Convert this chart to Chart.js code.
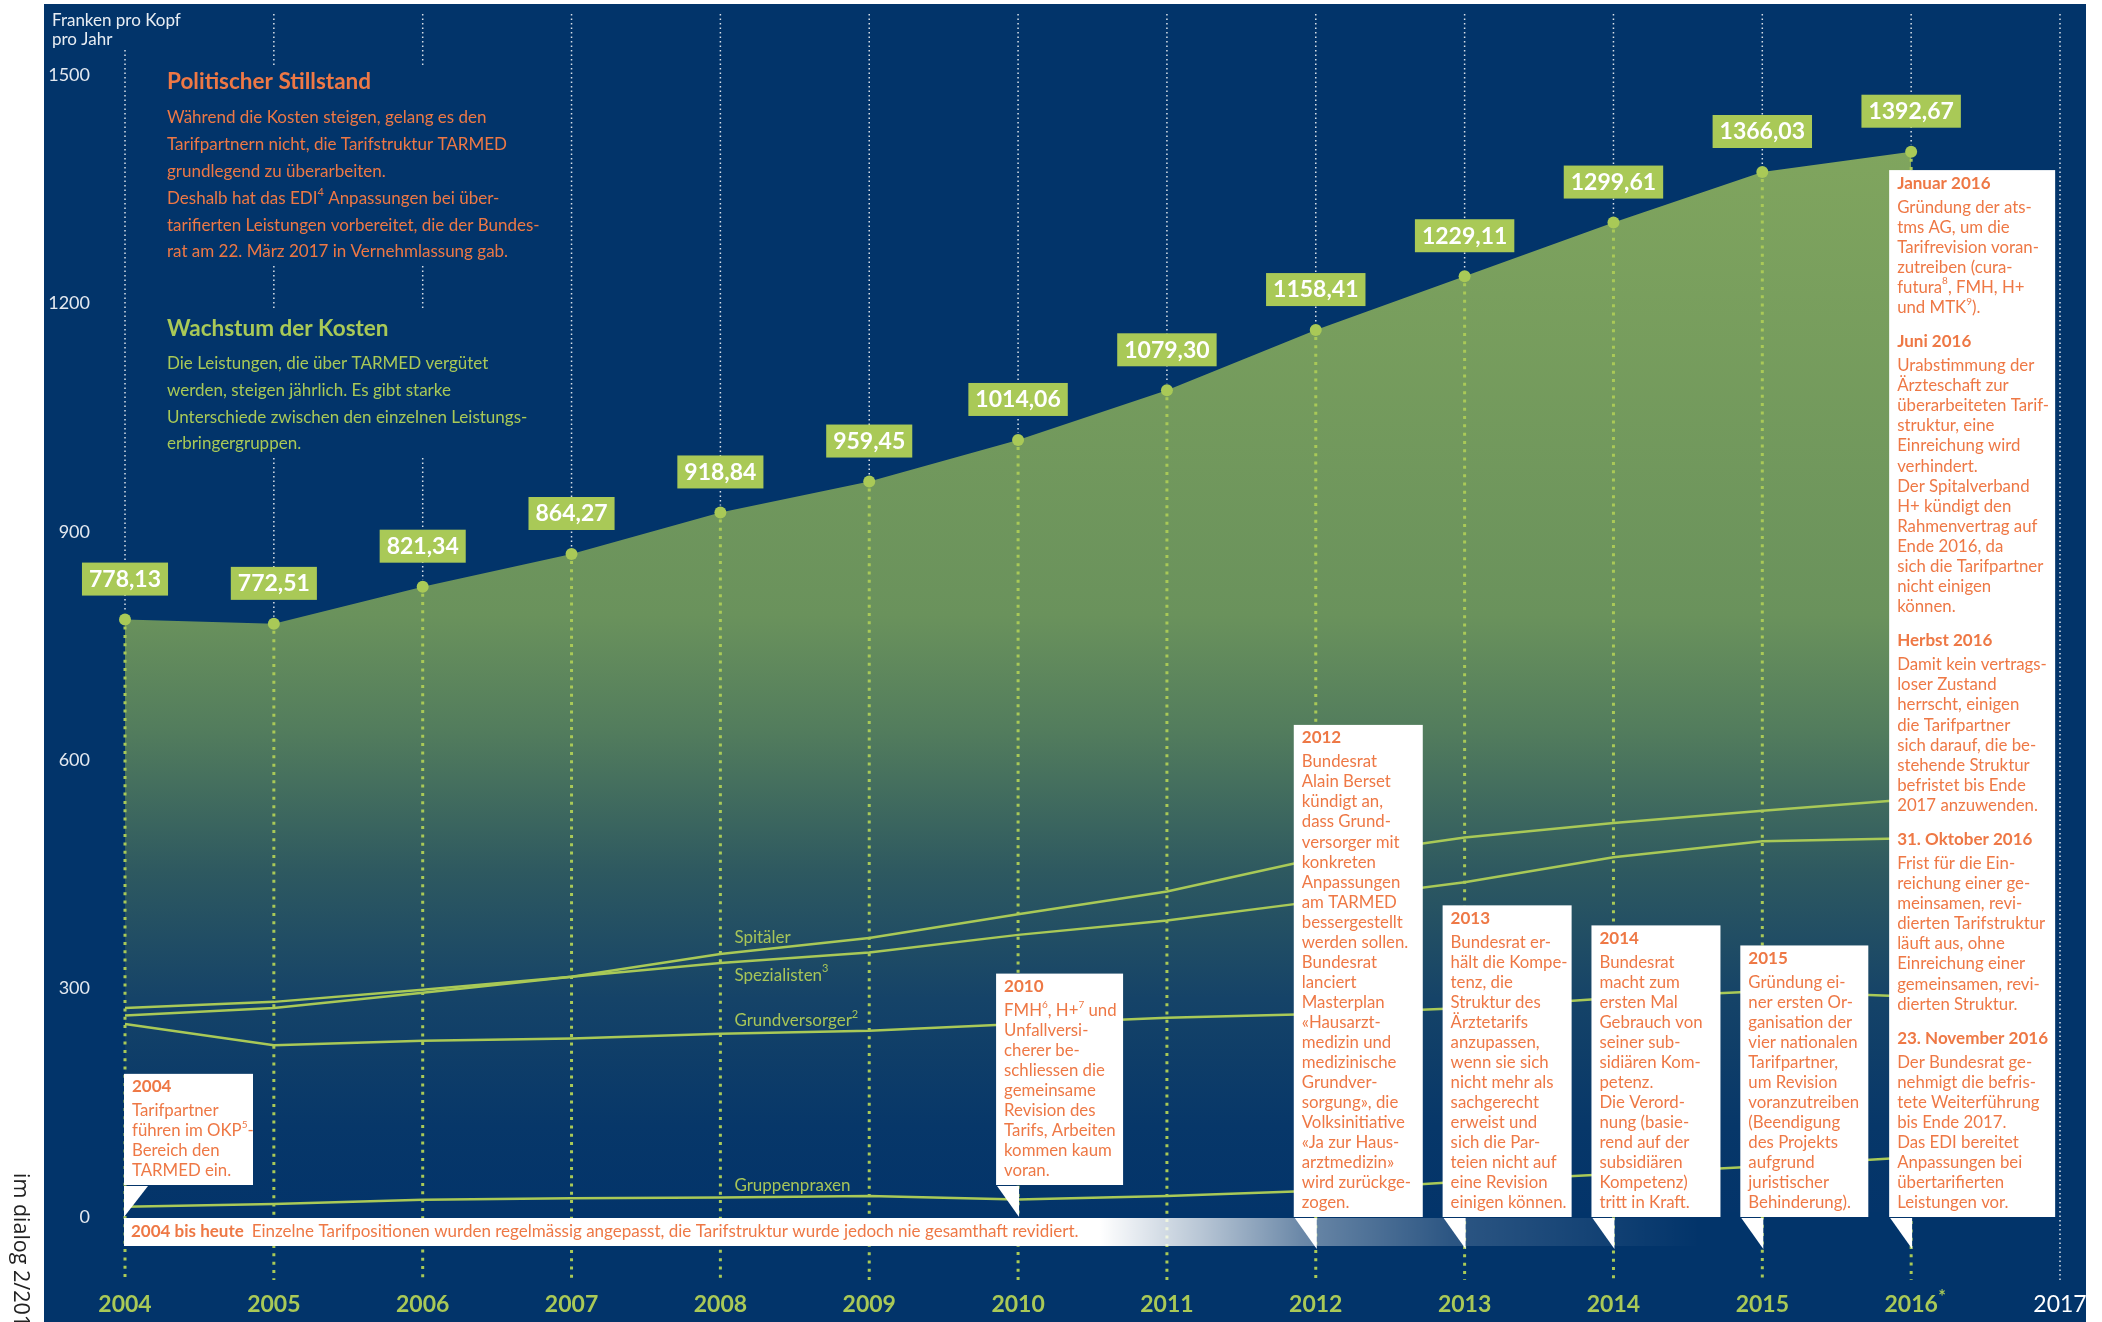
<!DOCTYPE html>
<html>
<head>
<meta charset="utf-8">
<script src="https://cdn.jsdelivr.net/npm/chart.js@4/dist/chart.umd.min.js"></script>
<style>
html,body{margin:0;padding:0;background:#fff;}
canvas{display:block;}
</style>
</head>
<body>
<canvas id="c" width="2102" height="1322" style="width:2102px;height:1322px"></canvas>
<script>
// ---------------- DATA ----------------
const years = [2004, 2005, 2006, 2007, 2008, 2009, 2010, 2011, 2012, 2013, 2014, 2015, 2016];
const xTickYears = [2004, 2005, 2006, 2007, 2008, 2009, 2010, 2011, 2012, 2013, 2014, 2015, 2016, 2017];
const yTickStep = 300;
const yMin = 0, yMax = 1500;
const totalCost = [778.13, 772.51, 821.34, 864.27, 918.84, 959.45, 1014.06, 1079.30, 1158.41, 1229.11, 1299.61, 1366.03, 1392.67];
const spitaeler = [258, 268, 288, 309, 339, 360, 391, 421, 464, 492, 511, 527, 542];
const spezialisten = [268, 276, 292, 309, 327, 341, 364, 383, 408, 433, 466, 487, 491];
const grundversorger = [247, 219, 225, 228, 234, 238, 247, 255, 260, 268, 281, 290, 283];
const gruppenpraxen = [7, 10.5, 16, 18, 19, 21, 16.5, 21, 28, 40, 50, 60, 72];
const seriesNames = ['Spitäler', 'Spezialisten{3}', 'Grundversorger{2}', 'Gruppenpraxen'];
const axisTitle = ['Franken pro Kopf', 'pro Jahr'];

const introTitle1 = 'Politischer Stillstand';
const introText1 = [
  'Während die Kosten steigen, gelang es den',
  'Tarifpartnern nicht, die Tarifstruktur TARMED',
  'grundlegend zu überarbeiten.',
  'Deshalb hat das EDI{4} Anpassungen bei über-',
  'tarifierten Leistungen vorbereitet, die der Bundes-',
  'rat am 22. März 2017 in Vernehmlassung gab.'
];
const introTitle2 = 'Wachstum der Kosten';
const introText2 = [
  'Die Leistungen, die über TARMED vergütet',
  'werden, steigen jährlich. Es gibt starke',
  'Unterschiede zwischen den einzelnen Leistungs-',
  'erbringergruppen.'
];
const bandHead = '2004 bis heute';
const bandText = 'Einzelne Tarifpositionen wurden regelmässig angepasst, die Tarifstruktur wurde jedoch nie gesamthaft revidiert.';

const noteYears = [2004, 2010, 2012, 2013, 2014, 2015, 2016];
const noteSections = [
  [{head: '2004', lines: ['Tarifpartner', 'führen im OKP{5}-', 'Bereich den', 'TARMED ein.']}],
  [{head: '2010', lines: ['FMH{6}, H+{7} und', 'Unfallversi-', 'cherer be-', 'schliessen die', 'gemeinsame', 'Revision des', 'Tarifs, Arbeiten', 'kommen kaum', 'voran.']}],
  [{head: '2012', lines: ['Bundesrat', 'Alain Berset', 'kündigt an,', 'dass Grund-', 'versorger mit', 'konkreten', 'Anpassungen', 'am TARMED', 'bessergestellt', 'werden sollen.', 'Bundesrat', 'lanciert', 'Masterplan', '«Hausarzt-', 'medizin und', 'medizinische', 'Grundver-', 'sorgung», die', 'Volksinitiative', '«Ja zur Haus-', 'arztmedizin»', 'wird zurückge-', 'zogen.']}],
  [{head: '2013', lines: ['Bundesrat er-', 'hält die Kompe-', 'tenz, die', 'Struktur des', 'Ärztetarifs', 'anzupassen,', 'wenn sie sich', 'nicht mehr als', 'sachgerecht', 'erweist und', 'sich die Par-', 'teien nicht auf', 'eine Revision', 'einigen können.']}],
  [{head: '2014', lines: ['Bundesrat', 'macht zum', 'ersten Mal', 'Gebrauch von', 'seiner sub-', 'sidiären Kom-', 'petenz.', 'Die Verord-', 'nung (basie-', 'rend auf der', 'subsidiären', 'Kompetenz)', 'tritt in Kraft.']}],
  [{head: '2015', lines: ['Gründung ei-', 'ner ersten Or-', 'ganisation der', 'vier nationalen', 'Tarifpartner,', 'um Revision', 'voranzutreiben', '(Beendigung', 'des Projekts', 'aufgrund', 'juristischer', 'Behinderung).']}],
  [
    {head: 'Januar 2016', lines: ['Gründung der ats-', 'tms AG, um die', 'Tarifrevision voran-', 'zutreiben (cura-', 'futura{8}, FMH, H+', 'und MTK{9}).']},
    {head: 'Juni 2016', lines: ['Urabstimmung der', 'Ärzteschaft zur', 'überarbeiteten Tarif-', 'struktur, eine', 'Einreichung wird', 'verhindert.', 'Der Spitalverband', 'H+ kündigt den', 'Rahmenvertrag auf', 'Ende 2016, da', 'sich die Tarifpartner', 'nicht einigen', 'können.']},
    {head: 'Herbst 2016', lines: ['Damit kein vertrags-', 'loser Zustand', 'herrscht, einigen', 'die Tarifpartner', 'sich darauf, die be-', 'stehende Struktur', 'befristet bis Ende', '2017 anzuwenden.']},
    {head: '31. Oktober 2016', lines: ['Frist für die Ein-', 'reichung einer ge-', 'meinsamen, revi-', 'dierten Tarifstruktur', 'läuft aus, ohne', 'Einreichung einer', 'gemeinsamen, revi-', 'dierten Struktur.']},
    {head: '23. November 2016', lines: ['Der Bundesrat ge-', 'nehmigt die befris-', 'tete Weiterführung', 'bis Ende 2017.', 'Das EDI bereitet', 'Anpassungen bei', 'übertarifierten', 'Leistungen vor.']}
  ]
];
const spineText = 'im dialog 2/2017';

// ---------------- STYLE ----------------
const FONT = 'Lato, "Open Sans", sans-serif';
const GREEN = '#a9c957';
const GREEN_TXT = '#a7c558';
const NAVY = '#02346a';
const ORANGE = '#ee7845';
const NOTE_SIZE = 16.8;

function drawRich(ctx, text, x, y, size, weight, color, align) {
  const parts = text.split(/\{([^}]*)\}/);
  const supSize = Math.round(size * 0.62);
  const ws = [];
  let total = 0;
  parts.forEach((t, i) => {
    ctx.font = `${weight} ${i % 2 ? supSize : size}px ${FONT}`;
    const w = ctx.measureText(t).width;
    ws.push(w); total += w;
  });
  let cx = align === 'center' ? x - total / 2 : (align === 'right' ? x - total : x);
  ctx.fillStyle = color;
  ctx.textAlign = 'left';
  ctx.textBaseline = 'middle';
  parts.forEach((t, i) => {
    ctx.font = `${weight} ${i % 2 ? supSize : size}px ${FONT}`;
    ctx.fillText(t, cx, i % 2 ? y - size * 0.36 : y);
    cx += ws[i];
  });
  return total;
}

function vline(ctx, x, y1, y2, color, width, dash) {
  if (y2 <= y1) return;
  ctx.save();
  ctx.strokeStyle = color;
  ctx.lineWidth = width;
  ctx.setLineDash(dash);
  ctx.beginPath();
  ctx.moveTo(x, y1);
  ctx.lineTo(x, y2);
  ctx.stroke();
  ctx.restore();
}

function areaFill(c) {
  const chart = c.chart;
  const ys = chart.scales && chart.scales.y;
  if (!ys || !chart.chartArea) return 'rgba(0,0,0,0)';
  const top = ys.getPixelForValue(1400), bot = ys.getPixelForValue(0);
  const g = chart.ctx.createLinearGradient(0, top, 0, bot);
  g.addColorStop(0, '#80a55e');
  g.addColorStop(0.44, '#6a925c');
  g.addColorStop(0.55, '#527c5d');
  g.addColorStop(0.68, '#2e5960');
  g.addColorStop(0.80, '#154368');
  g.addColorStop(0.92, '#073769');
  g.addColorStop(1, '#03346a');
  return g;
}

const decorPlugin = {
  id: 'decor',
  beforeDraw(chart) {
    const ctx = chart.ctx;
    ctx.save();
    ctx.fillStyle = '#ffffff';
    ctx.fillRect(0, 0, chart.width, chart.height);
    ctx.fillStyle = NAVY;
    ctx.fillRect(44, 4, 2086 - 44, chart.height - 4);
    ctx.restore();
  },
  afterDatasetsDraw(chart) {
    const ctx = chart.ctx;
    const xs = chart.scales.x, ys = chart.scales.y;
    const meta = chart.getDatasetMeta(0);
    const y0 = ys.getPixelForValue(0);
    const lineBottom = y0 + 68;
    ctx.save();

    // vertical dotted guide lines
    const textGaps = [[65, 266], [308, 458]];
    xTickYears.forEach(yr => {
      const x = xs.getPixelForValue(yr);
      const i = years.indexOf(yr);
      if (i < 0) {
        vline(ctx, x, 14, lineBottom, 'rgba(255,255,255,0.85)', 1.5, [1.5, 3]);
        return;
      }
      const p = meta.data[i];
      let segs = [[yr === years[0] ? 50 : 14, p.y - 7]];
      if (x > 160 && x < 545) {
        const out = [];
        segs.forEach(([a, b]) => {
          let cur = a;
          textGaps.forEach(([g1, g2]) => {
            if (g1 > cur && g1 < b) out.push([cur, g1]);
            if (g2 > cur) cur = Math.max(cur, g2);
          });
          if (cur < b) out.push([cur, b]);
        });
        segs = out;
      }
      segs.forEach(([a, b]) => vline(ctx, x, a, b, 'rgba(255,255,255,0.85)', 1.5, [1.5, 3]));
      vline(ctx, x, p.y + 7, lineBottom, GREEN, 3, [3, 5.3]);
    });

    // value labels
    meta.data.forEach((p, i) => {
      const txt = totalCost[i].toFixed(2).replace('.', ',');
      ctx.font = `bold 23px ${FONT}`;
      const w = ctx.measureText(txt).width + 14;
      ctx.fillStyle = GREEN;
      ctx.fillRect(p.x - w / 2, p.y - 57, w, 33);
      ctx.fillStyle = '#ffffff';
      ctx.textAlign = 'center';
      ctx.textBaseline = 'middle';
      ctx.fillText(txt, p.x, p.y - 40);
    });

    // series labels near 2008
    const labelOffsets = [-16, 12, -13, -12];
    const li = years.indexOf(2008);
    [1, 2, 3, 4].forEach((di, k) => {
      const p = chart.getDatasetMeta(di).data[li];
      drawRich(ctx, seriesNames[k], p.x + 14, p.y + labelOffsets[k], 17, 'normal', GREEN_TXT, 'left');
    });

    // intro texts
    drawRich(ctx, introTitle1, 167, 82, 22.5, 'bold', ORANGE, 'left');
    introText1.forEach((t, i) => drawRich(ctx, t, 167, 118 + 26.8 * i, 17, 'normal', ORANGE, 'left'));
    drawRich(ctx, introTitle2, 167, 329, 22.5, 'bold', GREEN, 'left');
    introText2.forEach((t, i) => drawRich(ctx, t, 167, 363.5 + 26.8 * i, 17, 'normal', GREEN, 'left'));

    // bottom band
    const bx = xs.getPixelForValue(2004) - 1;
    const bEnd = 1700;
    const bg = ctx.createLinearGradient(bx, 0, bEnd, 0);
    const f = v => (v - bx) / (bEnd - bx);
    bg.addColorStop(0, 'rgba(255,255,255,1)');
    bg.addColorStop(f(1100), 'rgba(255,255,255,1)');
    bg.addColorStop(f(1200), 'rgba(255,255,255,0.72)');
    bg.addColorStop(f(1300), 'rgba(255,255,255,0.42)');
    bg.addColorStop(f(1450), 'rgba(255,255,255,0.17)');
    bg.addColorStop(1, 'rgba(255,255,255,0)');
    ctx.fillStyle = bg;
    ctx.fillRect(bx, y0 + 6, bEnd - bx, 28);
    const hw = drawRich(ctx, bandHead, bx + 7, y0 + 20, 17, 'bold', ORANGE, 'left');
    drawRich(ctx, bandText, bx + 7 + hw + 8, y0 + 20, 17, 'normal', ORANGE, 'left');

    // annotation boxes
    const boxW = [129, 127, 129, 129, 129, 128, 166];
    const lineH = 20.05, headOff = 13, firstOff = 24, gapOff = 34.5, botPad = 14;
    noteYears.forEach((yr, n) => {
      const px = xs.getPixelForValue(yr);
      const first = n === 0;
      const left = first ? px - 1 : px - 22;
      const bottom = (yr <= 2010) ? y0 - 27 : y0 + 5;
      const secs = noteSections[n];
      let h = headOff + botPad;
      secs.forEach((s, k) => { h += firstOff + lineH * (s.lines.length - 1); if (k < secs.length - 1) h += gapOff; });
      const top = bottom - h;
      ctx.fillStyle = '#ffffff';
      ctx.fillRect(left, top, boxW[n], h);
      let cy = top + headOff;
      secs.forEach((s, k) => {
        drawRich(ctx, s.head, left + 8, cy, 17, 'bold', ORANGE, 'left');
        cy += firstOff;
        s.lines.forEach((t, j) => {
          drawRich(ctx, t, left + 8, cy, NOTE_SIZE, 'normal', ORANGE, 'left');
          if (j < s.lines.length - 1) cy += lineH;
        });
        cy += gapOff;
      });
      // pointer triangle
      ctx.fillStyle = '#ffffff';
      ctx.beginPath();
      if (first) {
        ctx.moveTo(px - 1, bottom + 1);
        ctx.lineTo(px + 23, bottom + 1);
        ctx.lineTo(px - 1, bottom + 32);
      } else {
        ctx.moveTo(px - 21, bottom + 1);
        ctx.lineTo(px + 1, bottom + 1);
        ctx.lineTo(px + 1, bottom + 32);
      }
      ctx.closePath();
      ctx.fill();
    });
    ctx.restore();
  },
  afterDraw(chart) {
    const ctx = chart.ctx;
    const xs = chart.scales.x;
    ctx.save();
    // axis title
    axisTitle.forEach((t, i) => drawRich(ctx, t, 52, 21 + 19 * i, 17, 'normal', '#e8edf3', 'left'));
    // asterisk on 2016
    drawRich(ctx, '*', xs.getPixelForValue(2016) + 27, 1297, 18, 'bold', GREEN, 'left');
    // spine text
    ctx.translate(20, 1173);
    ctx.rotate(Math.PI / 2);
    ctx.font = `21.5px "Open Sans", sans-serif`;
    ctx.fillStyle = '#222222';
    ctx.textAlign = 'left';
    ctx.textBaseline = 'middle';
    ctx.fillText(spineText, 0, 0);
    ctx.restore();
  }
};

const toXY = arr => years.map((y, i) => ({x: y, y: arr[i]}));
const lineStyle = {borderColor: GREEN, borderWidth: 2.5, pointRadius: 0, fill: false, tension: 0, clip: false, order: 1};

new Chart(document.getElementById('c'), {
  type: 'line',
  data: {
    datasets: [
      {label: 'Total', data: toXY(totalCost), fill: 'origin', backgroundColor: areaFill,
       borderWidth: 0, borderColor: 'rgba(0,0,0,0)', pointRadius: 6, pointBackgroundColor: GREEN,
       pointBorderWidth: 0, order: 5, clip: false},
      Object.assign({label: 'Spitäler', data: toXY(spitaeler)}, lineStyle),
      Object.assign({label: 'Spezialisten', data: toXY(spezialisten)}, lineStyle),
      Object.assign({label: 'Grundversorger', data: toXY(grundversorger)}, lineStyle),
      Object.assign({label: 'Gruppenpraxen', data: toXY(gruppenpraxen)}, lineStyle)
    ]
  },
  options: {
    responsive: false,
    animation: false,
    devicePixelRatio: 1,
    layout: {padding: {left: 0, top: 70, right: 42, bottom: 0}},
    plugins: {legend: {display: false}, tooltip: {enabled: false}},
    events: [],
    scales: {
      x: {
        type: 'linear', min: xTickYears[0], max: xTickYears[xTickYears.length - 1],
        afterFit: s => { s.height = 110; s.paddingLeft = 0; s.paddingRight = 0; },
        grid: {display: false, drawTicks: false}, border: {display: false},
        ticks: {
          stepSize: 1, autoSkip: false, maxRotation: 0, minRotation: 0, padding: 79,
          callback: v => String(v),
          color: c => (c.tick && c.tick.value === 2017) ? '#ffffff' : GREEN,
          font: c => ({family: FONT, size: 23, weight: (c.tick && c.tick.value === 2017) ? 'normal' : 'bold'})
        }
      },
      y: {
        type: 'linear', min: yMin, max: yMax,
        afterFit: s => { s.width = 125; s.paddingTop = 0; s.paddingBottom = 0; },
        grid: {display: false, drawTicks: false}, border: {display: false},
        ticks: {
          stepSize: yTickStep, padding: 35, labelOffset: 5,
          color: '#e4e9f0', font: {family: FONT, size: 18},
          callback: v => String(v)
        }
      }
    }
  },
  plugins: [decorPlugin]
});
</script>
</body>
</html>
